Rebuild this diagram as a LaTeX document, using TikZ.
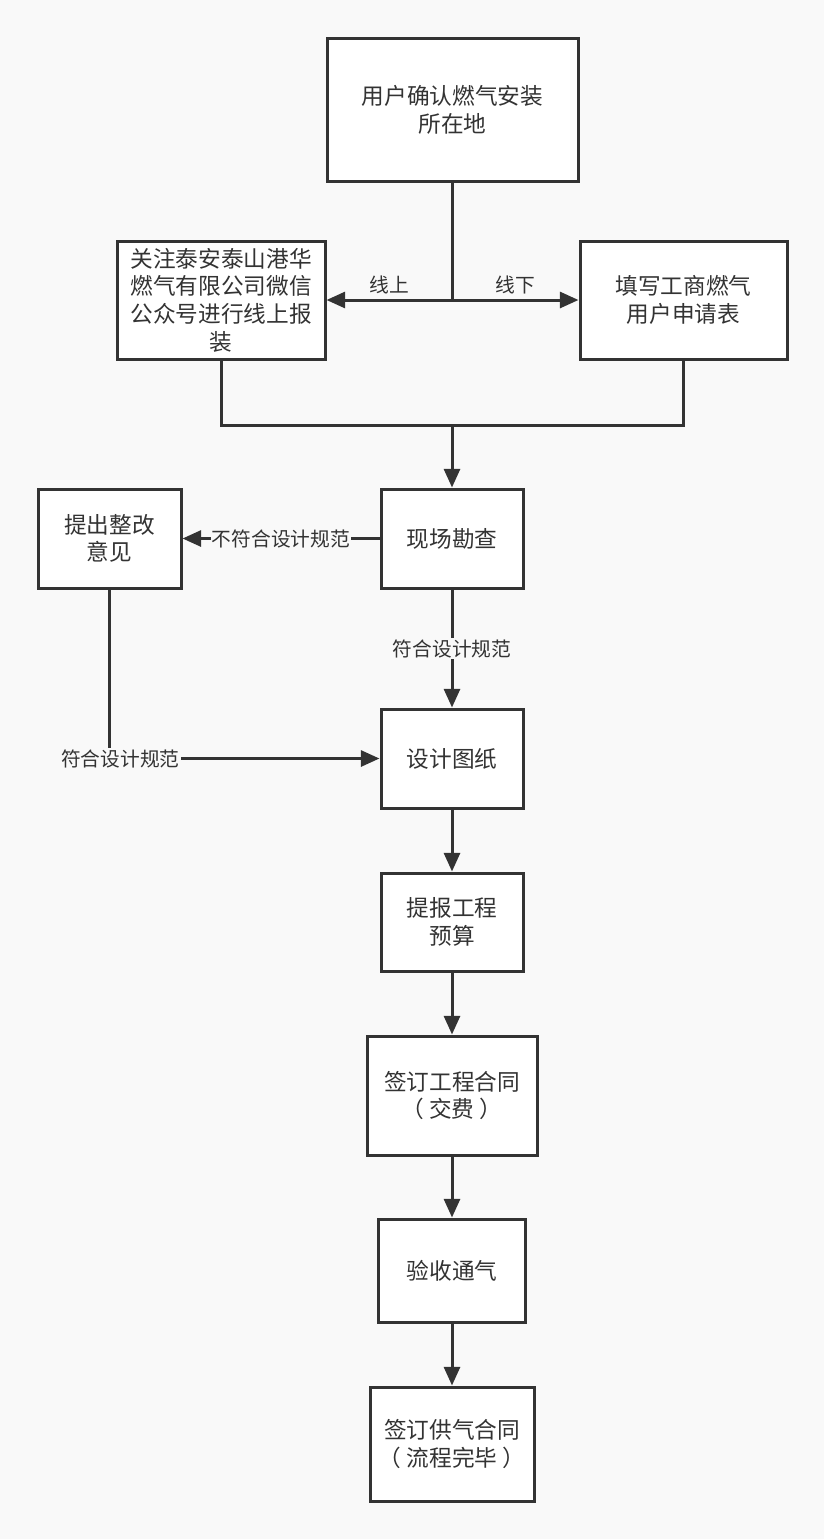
\documentclass[tikz,border=0pt]{standalone}
\usepackage{fontspec}
\setmainfont{Noto Sans CJK SC}
\usetikzlibrary{arrows.meta,positioning}
\definecolor{ink}{HTML}{333333}
\definecolor{wash}{HTML}{F9F9F9}
\tikzset{box/.style={draw=ink,line width=2.25pt,fill=white,align=center,text=ink,inner sep=0pt,font=\fontsize{17}{20.8}\selectfont}, sz/.style 2 args={minimum width=#1*0.75pt,minimum height=#2*0.75pt},line/.style={line width=2.25pt,draw=ink},arr/.style={-{Triangle[length=14pt,width=12pt]},line width=2.25pt,draw=ink},lbl/.style={fill=wash,text=ink,inner sep=1pt,font=\fontsize{14.8}{17}\selectfont}}

\begin{document}
\begin{tikzpicture}[x=0.75pt,y=-0.75pt]
\fill[wash](0,0)rectangle(824,1539);
\node[box,sz={251}{143}](p1)at(452.5,109.5){用户确认燃气安装\\所在地};
\node[box,sz={208}{118}](p2)at(221,300){关注泰安泰山港华\\燃气有限公司微信\\公众号进行线上报\\装};\node[box,sz={207}{118}](p3)at(683.5,300){填写工商燃气\\用户申请表};
\node[box,sz={142}{99}](p4)at(452,538.5){现场勘查};\node[box,sz={143}{99}](p5)at(109.5,538.5){提出整改\\意见};
\node[box,sz={142}{99}](p6)at(452,758.5){设计图纸};\node[box,sz={142}{98}](p7)at(452,922){提报工程\\预算};
\node[box,sz={170}{119}](p8)at(452,1095.5){签订工程合同\\（ 交费 ）};\node[box,sz={147}{103}](p9)at(452,1270.5){验收通气};
\node[box,sz={164}{114}](p10)at(452,1444){签订供气合同\\（ 流程完毕 ）};
\coordinate(j1)at(452.5,300);\coordinate(j2)at(452,425);
\draw[line](p1)--(j1);\draw[arr](j1)--node[lbl,above,fill=none,yshift=2pt]{线上}(p2);\draw[arr](j1)--node[lbl,above,fill=none,yshift=2pt]{线下}(p3);
\draw[line](p2)|-(j2)-|(p3);\draw[arr](j2)--(p4);
\draw[arr](p4)--node[lbl]{不符合设计规范}(p5);\draw[arr](p4)--node[lbl]{符合设计规范}(p6);
\draw[arr](p5)|-node[lbl,pos=.52]{符合设计规范}(p6);
\draw[arr](p6)--(p7);\draw[arr](p7)--(p8);\draw[arr](p8)--(p9);\draw[arr](p9)--(p10);
\end{tikzpicture}
\end{document}
